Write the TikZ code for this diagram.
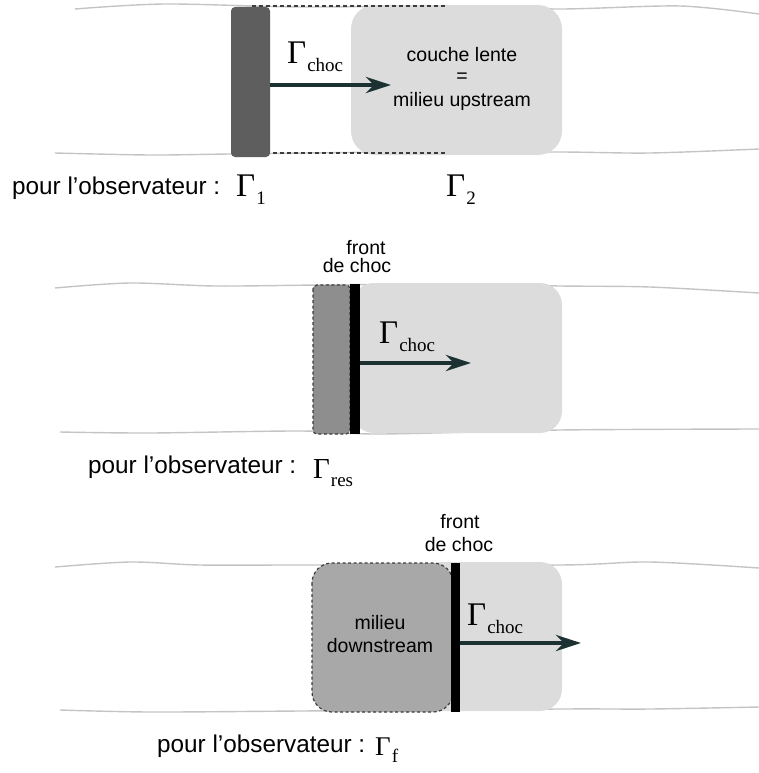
\documentclass[tikz,border=0pt]{standalone}
\usepackage{fontspec}
\setmainfont{Liberation Sans}
\newfontfamily\gfont{Liberation Serif}
\usetikzlibrary{arrows.meta}
\definecolor{tubec}{HTML}{C4C4C4}
\definecolor{lightc}{HTML}{DCDCDC}
\definecolor{darkc}{HTML}{5E5E5E}
\definecolor{midc}{HTML}{8E8E8E}
\definecolor{downc}{HTML}{A8A8A8}
\definecolor{arrc}{HTML}{1C3232}
\definecolor{dashc}{HTML}{3C3C3C}
\newcommand\GamSub[3]{{\gfont\fontsize{#1}{#1}\selectfont Γ\kern1pt\raisebox{-#3}{\fontsize{19}{19}\selectfont #2}}}
\tikzset{
  tube/.style={draw=tubec, line width=1.4pt},
  lightbox/.style={fill=lightc, rounded corners=22pt},
  shockbar/.style={fill=black},
  dashbox/.style={draw=dashc, dashed, line width=1.2pt, dash pattern=on 3pt off 2.5pt},
  arrowc/.style={draw=arrc, line width=4.5pt, -{Stealth[length=25pt,width=16pt,inset=8pt]}},
  lbl/.style={font=\fontsize{19.5}{23}\selectfont, align=center, inner sep=0pt},
  obs/.style={font=\fontsize{24.3}{26}\selectfont, inner sep=0pt, anchor=base west},
  gam/.style={inner sep=0pt, anchor=base west}
}
\begin{document}
\begin{tikzpicture}[x=1pt,y=-1pt]
\useasboundingbox (0,0) rectangle (759,773);
% ---------- panel 1 ----------
\draw[tube] plot[smooth] coordinates {(75,9) (165,4) (300,7) (450,6) (560,9) (680,6) (759,14)};
\draw[tube] plot[smooth] coordinates {(55,153) (150,155) (230,154) (400,152) (560,152) (650,153) (759,149)};
\fill[lightc, rounded corners=24pt] (351,5) rectangle (562,155);
\draw[dashc, line width=1.2pt, dash pattern=on 4pt off 3pt] (252,6) -- (447,6);
\draw[dashc, line width=1.2pt, dash pattern=on 4pt off 3pt] (252,153) -- (447,153);
\node[fill=darkc, rounded corners=4pt, minimum width=39pt, minimum height=150pt, inner sep=0pt] (bar1) at (250.5,82) {};
\coordinate (tip1) at (391,85);
\draw[arrowc] (bar1.east |- tip1) -- (tip1);
\node[gam] (g1) at (287,64) {\GamSub{33}{choc}{8pt}};
\node[lbl] (t1a) at (462,55) {couche lente};
\node[lbl] (t1b) at (462,78) {=};
\node[lbl] (t1c) at (462,101) {milieu upstream};
\node[obs] (o1) at (12,194) {pour l’observateur :};
\node[gam] (g1a) at (236,196) {\GamSub{33}{1}{8pt}};
\node[gam] (g1b) at (446,196) {\GamSub{33}{2}{8pt}};
% ---------- panel 2 ----------
\node[lbl] (f2a) at (366,248) {front};
\node[lbl] (f2b) at (357,266) {de choc};
\draw[tube] plot[smooth] coordinates {(55,288) (130,283) (215,286) (320,285) (450,284) (560,286) (650,287) (759,293)};
\draw[tube] plot[smooth] coordinates {(60,432) (150,433) (300,431) (380,434) (560,430) (759,429)};
\fill[lightc, rounded corners=22pt] (352,283) rectangle (562,433);
\filldraw[fill=midc, dashbox, rounded corners=4pt] (313,285) rectangle (350,434);
\node[shockbar, minimum width=10pt, minimum height=150pt, inner sep=0pt] (bar2) at (355,359) {};
\coordinate (tip2) at (471,363);
\draw[arrowc] (bar2.east |- tip2) -- (tip2);
\node[gam] (g2) at (379,343) {\GamSub{33}{choc}{8pt}};
\node[obs] (o2) at (88,473) {pour l’observateur :};
\node[gam] (g2a) at (313,478) {\GamSub{29}{res}{8pt}};
% ---------- panel 3 ----------
\node[lbl] (f3a) at (460,522) {front};
\node[lbl] (f3b) at (459,545) {de choc};
\draw[tube] plot[smooth] coordinates {(55,567) (130,562) (200,565) (300,565) (560,565) (650,562) (759,568)};
\draw[tube] plot[smooth] coordinates {(60,710) (150,712) (300,711) (560,709) (650,709) (759,707)};
\fill[lightc, rounded corners=22pt] (420,562) rectangle (562,711);
\filldraw[fill=downc, dashbox, rounded corners=20pt] (312,563) rectangle (453,712);
\node[shockbar, minimum width=9pt, minimum height=149pt, inner sep=0pt] (bar3) at (455.5,637.5) {};
\coordinate (tip3) at (581,643);
\draw[arrowc] (bar3.east |- tip3) -- (tip3);
\node[gam] (g3) at (467,625) {\GamSub{33}{choc}{8pt}};
\node[lbl] (d3a) at (380,623) {milieu};
\node[lbl] (d3b) at (380,646) {downstream};
\node[obs] (o3) at (157,752) {pour l’observateur :};
\node[gam] (g3a) at (375,755) {\GamSub{27}{f}{7pt}};
\end{tikzpicture}
\end{document}
